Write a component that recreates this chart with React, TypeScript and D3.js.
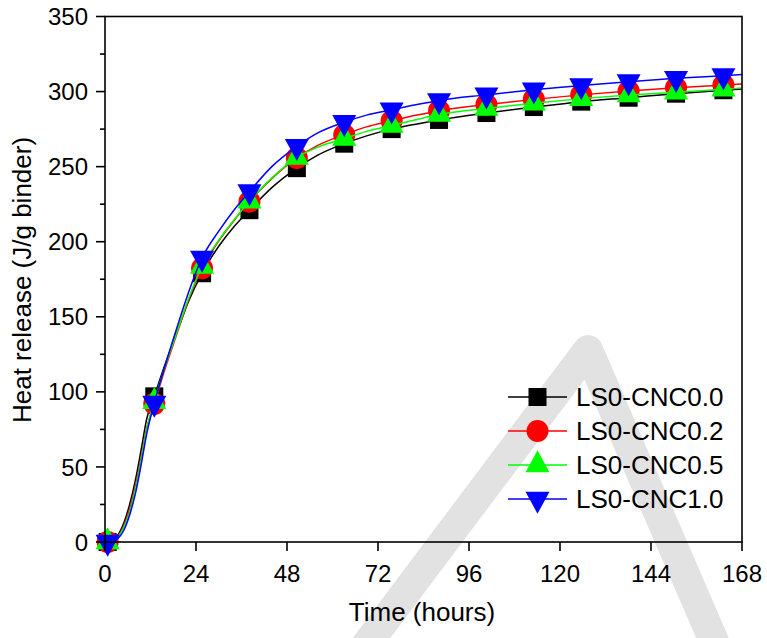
import React from "react";
import * as d3 from "d3";

const lineTimes = [0.7, 2, 3.5, 5, 6.5, 8, 9.5, 11, 13, 15.8, 19, 22, 25.6, 30, 34, 38.1, 44, 50.6, 56, 63.1, 69, 75.6, 82, 88.1, 100.6, 113.1, 125.6, 138.1, 150.6, 163.1, 168];
const markerTimes = [0.7, 13, 25.6, 38.1, 50.6, 63.1, 75.6, 88.1, 100.6, 113.1, 125.6, 138.1, 150.6, 163.1];

const cnc00 = [0, 1.5, 5, 13, 25, 41, 61, 82, 97, 118, 140, 160, 179, 197, 210, 221, 236, 249, 257.5, 265.3, 270.5, 275, 278.3, 281.1, 285.7, 289.7, 293.3, 295.9, 298.6, 300.9, 301.7];
const cnc02 = [0, 1, 4, 11, 22, 37, 56, 76, 92, 115, 139, 161, 182.3, 200.5, 214, 226.7, 242, 255.8, 264, 271.3, 276.5, 280.5, 284.2, 287.3, 291.3, 294.8, 297.8, 300.3, 302.5, 304.3, 305];
const cnc05 = [0, 0.8, 3.5, 10, 20, 35, 54, 75, 93.5, 116.5, 140, 162, 183.5, 201, 214.5, 227, 242.5, 256.2, 262.8, 268.8, 273.5, 277.5, 281.3, 284.7, 288.8, 292.3, 295.3, 297.7, 299.5, 301.6, 302.4];
const cnc10 = [0, 0.5, 2.5, 8, 18, 32, 51, 72, 92.5, 117, 143, 166, 189.2, 207, 221, 233.4, 250, 263.5, 272.3, 279.6, 284.3, 287.8, 291.2, 294.1, 297.8, 301.2, 304, 306.6, 308.8, 310.6, 311.4];

const seriesNames = ["LS0-CNC0.0", "LS0-CNC0.2", "LS0-CNC0.5", "LS0-CNC1.0"];
const seriesColors = ["#000000", "#ff0000", "#00ff00", "#0000ff"];
const seriesShapes = ["square", "circle", "up", "down"];
const seriesValues = [cnc00, cnc02, cnc05, cnc10];

const xTicks = [0, 24, 48, 72, 96, 120, 144, 168];
const yTicks = [0, 50, 100, 150, 200, 250, 300, 350];
const yMinorTicks = [25, 75, 125, 175, 225, 275, 325];

const FONT = "'Liberation Sans', Arial, sans-serif";

function Marker({ shape, color, x, y }: { shape: string; color: string; x: number; y: number }) {
  if (shape === "square") return <rect x={x - 9} y={y - 9} width={18} height={18} fill={color} />;
  if (shape === "circle") return <circle cx={x} cy={y} r={11} fill={color} />;
  if (shape === "up")
    return <path d={`M${x},${y - 14.7}L${x + 12},${y + 7.3}L${x - 12},${y + 7.3}Z`} fill={color} />;
  return <path d={`M${x},${y + 14.7}L${x + 12},${y - 7.3}L${x - 12},${y - 7.3}Z`} fill={color} />;
}

export default function App() {
  const W = 767, H = 638;
  const x = d3.scaleLinear().domain([0, 168]).range([105, 742]);
  const y = d3.scaleLinear().domain([0, 350]).range([542, 16.5]);
  const line = d3
    .line<number>()
    .x((_, i) => x(lineTimes[i]))
    .y((d) => y(d))
    .curve(d3.curveMonotoneX);

  const legendX = 508, legendY0 = 397, legendDy = 34;

  return (
    <svg width={W} height={H} style={{ position: "absolute", left: 0, top: 0, background: "#fff" }} fontFamily={FONT}>
      <rect width={W} height={H} fill="#fff" />
      {/* watermark */}
      <path d="M355,660L588,350L722,660" fill="none" stroke="#e2e2e2" strokeWidth={30} strokeLinejoin="round" strokeLinecap="round" />

      {seriesValues.map((vals, s) => (
        <g key={s}>
          <path d={line(vals) || ""} fill="none" stroke={seriesColors[s]} strokeWidth={1.5} />
          {markerTimes.map((t) => {
            const i = lineTimes.indexOf(t);
            return <Marker key={t} shape={seriesShapes[s]} color={seriesColors[s]} x={x(t)} y={y(vals[i])} />;
          })}
        </g>
      ))}

      {/* frame */}
      <rect x={105} y={16.5} width={637} height={525.5} fill="none" stroke="#000" strokeWidth={1.6} />

      {/* y ticks */}
      {yTicks.map((t) => (
        <g key={t}>
          <line x1={96} x2={105} y1={y(t)} y2={y(t)} stroke="#000" strokeWidth={1.6} />
          <text x={88} y={y(t)} dy="0.36em" textAnchor="end" fontSize={24}>
            {t}
          </text>
        </g>
      ))}
      {yMinorTicks.map((t) => (
        <line key={t} x1={100} x2={105} y1={y(t)} y2={y(t)} stroke="#000" strokeWidth={1.6} />
      ))}
      {/* x ticks */}
      {xTicks.map((t) => (
        <g key={t}>
          <line x1={x(t)} x2={x(t)} y1={542} y2={551} stroke="#000" strokeWidth={1.6} />
          <text x={x(t)} y={582} textAnchor="middle" fontSize={24}>
            {t}
          </text>
        </g>
      ))}

      <text x={422} y={621} textAnchor="middle" fontSize={26}>
        Time (hours)
      </text>
      <text transform="translate(31,280) rotate(-90)" textAnchor="middle" fontSize={26}>
        Heat release (J/g binder)
      </text>

      {/* legend */}
      {seriesNames.map((n, s) => {
        const ly = legendY0 + s * legendDy;
        return (
          <g key={n}>
            <line x1={legendX} x2={legendX + 59} y1={ly} y2={ly} stroke={seriesColors[s]} strokeWidth={1.5} />
            <Marker shape={seriesShapes[s]} color={seriesColors[s]} x={legendX + 29.5} y={ly} />
            <text x={576} y={ly + 9.3} fontSize={26}>
              {n}
            </text>
          </g>
        );
      })}
    </svg>
  );
}
